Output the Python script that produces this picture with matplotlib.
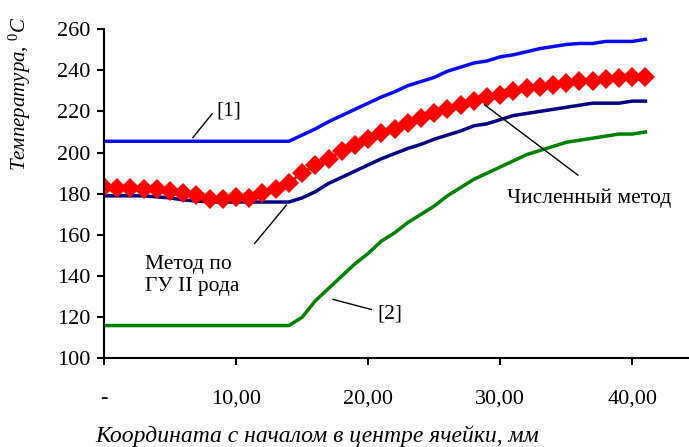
import matplotlib
matplotlib.use("Agg")
import matplotlib.pyplot as plt

plt.rcParams["font.family"] = ["Liberation Serif", "DejaVu Serif"]
plt.rcParams["mathtext.fontset"] = "custom"
plt.rcParams["mathtext.rm"] = "Liberation Serif"
plt.rcParams["mathtext.it"] = "Liberation Serif:italic"

# coordinate, mm
coord = list(range(0, 42))

# [1]
temp_1 = [205.5] * 15 + [208.5, 211.5, 215, 218, 221, 224, 227, 229.5, 232.5, 234.5,
                         236.5, 239.5, 241.5, 243.5, 244.5, 246.5, 247.5, 249, 250.5,
                         251.5, 252.5, 253, 253, 254, 254, 254, 255]

# Метод по ГУ II рода
temp_gu2 = [179, 179, 179, 179, 178.5, 178, 177, 176.5, 176, 176, 176, 176, 176, 176, 176,
            178, 181, 185, 188, 191, 194, 197, 199.5, 202, 204, 206.5, 208.5, 210.5, 213,
            214, 216, 218, 219, 220, 221, 222, 223, 224, 224, 224, 225, 225]

# [2]
temp_2 = [116] * 15 + [120, 128, 134, 140, 146, 151, 157, 161, 166, 170, 174, 179, 183,
                       187, 190, 193, 196, 199, 201, 203, 205, 206, 207, 208, 209, 209, 210]

# Численный метод
temp_num = [183.4, 183, 183, 182.3, 182.2, 181.5, 180.5, 179.4, 177.3, 177.3, 178.3, 178.1,
            180.5, 182.2, 185.4, 190, 194, 196.9, 201, 203.7, 206.6, 209.7, 211.5, 214.6,
            216.7, 219.4, 221.4, 223.2, 225.3, 227.2, 228, 230.1, 231.3, 232.1, 232.9, 234,
            235, 235, 235.8, 236.2, 236.9, 236.6]

x_ticks = [0, 10, 20, 30, 40]
x_tick_labels = ["-", "10,00", "20,00", "30,00", "40,00"]
y_ticks = [100, 120, 140, 160, 180, 200, 220, 240, 260]

fig = plt.figure(figsize=(6.89, 4.47), dpi=100)
ax = fig.add_axes([0.151, 0.198, 0.849, 0.737])

ax.plot(coord, temp_1, color="#0a0aff", lw=2.5)
ax.plot(coord, temp_gu2, color="#000080", lw=2.5)
ax.plot(coord, temp_2, color="#008000", lw=2.5)
ax.plot(coord, temp_num, color="#ff0000", lw=2, marker="D", markersize=10.5,
        markeredgewidth=0)

ax.set_xlim(0, 44.3)
ax.set_ylim(100, 260)
ax.set_xticks(x_ticks)
ax.set_xticklabels(x_tick_labels)
ax.set_yticks(y_ticks)

for s in ["top", "right"]:
    ax.spines[s].set_visible(False)
for s in ["left", "bottom"]:
    ax.spines[s].set_linewidth(1.5)
ax.tick_params(axis="both", direction="out", length=5, width=1.5, labelsize=16)
ax.tick_params(axis="x", pad=17)
ax.tick_params(axis="y", pad=5)

# подписи кривых
fs = 15.5
ax.plot([6.73, 8.18], [207.3, 218.8], color="black", lw=1)
ax.text(8.5, 220.3, "[1]", fontsize=fs, va="center", ha="left")

ax.plot([13.81, 11.41], [174.5, 155.9], color="black", lw=1)
ax.text(3.1, 140.5, "Метод по\nГУ II рода", fontsize=fs, va="center", ha="left",
        linespacing=1.2)

ax.plot([17.34, 20.24], [128.7, 123.8], color="black", lw=1)
ax.text(20.7, 121.5, "[2]", fontsize=fs, va="center", ha="left")

ax.plot([28.82, 35.88], [223.2, 189.1], color="black", lw=1)
ax.text(36.7, 178.0, "Численный метод", fontsize=fs, va="center", ha="center")

fig.text(0.029, 0.79, "Температура, $^{0}C$", rotation=90, fontsize=15,
         style="italic", ha="center", va="center")
fig.text(0.46, 0.025, "Координата с началом в центре ячейки, мм", fontsize=17,
         style="italic", ha="center", va="center")

fig.savefig("out.png", dpi=100)
